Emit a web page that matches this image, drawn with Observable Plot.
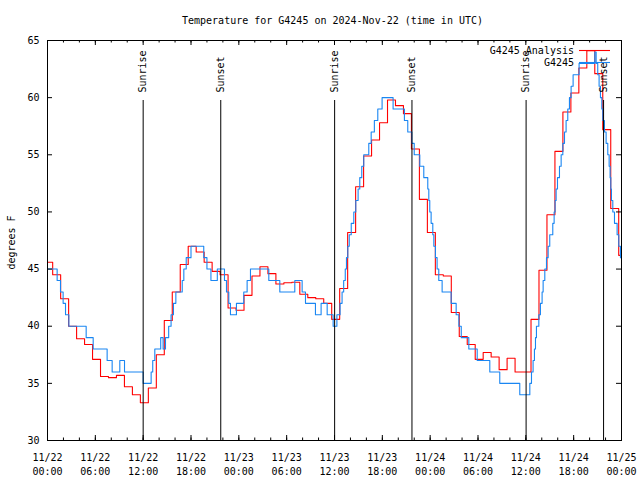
<!DOCTYPE html>
<html>
<head>
<meta charset="utf-8">
<script src="https://cdn.jsdelivr.net/npm/d3@7"></script>
<script src="https://cdn.jsdelivr.net/npm/@observablehq/plot@0.6"></script>
<style>
  html, body { margin: 0; padding: 0; background: #fff; }
  svg { display: block; }
</style>
</head>
<body>
<div id="chart"></div>
<script>
// ---------- data ----------
const title = "Temperature for G4245 on 2024-Nov-22 (time in UTC)";
const yLabel = "degrees F";
const seriesNames = ["G4245 Analysis", "G4245"];
const seriesColors = ["#ff0000", "#1a86f2"];
const startTime = "2024-11-22T00:00Z";
const endTime = "2024-11-25T00:00Z";
const yTicks = [30, 35, 40, 45, 50, 55, 60, 65];

// hourly analysis values, first value valid from 2024-11-21 23:39 UTC, one per hour
const analysisStart = "2024-11-21T23:39Z";
const analysisTemps = [
  45.6, 44.5, 42.4, 40.0, 38.9, 38.4, 37.1, 35.6, 35.5, 35.7,
  34.7, 34.0, 33.3, 34.6, 37.5, 40.5, 43.0, 45.4, 47.0, 46.5,
  45.6, 44.8, 44.5, 41.6, 41.4, 42.7, 44.4, 45.2, 44.6, 43.7,
  43.8, 43.85, 42.8, 42.5, 42.4, 42.0, 40.6, 43.3, 48.2, 52.2,
  54.9, 56.3, 57.8, 59.8, 59.3, 58.6, 55.5, 51.1, 48.2, 44.5,
  44.4, 41.2, 39.1, 38.4, 37.1, 37.7, 37.3, 36.2, 37.2, 36.0,
  36.0, 40.6, 44.9, 49.75, 55.3, 58.75, 60.4, 62.6, 64.1, 62.1,
  57.2, 50.3, 46.2
];

// station observations: hours after start at which the reading changes, and the new reading
const obsHours = [
  0, 1.21, 1.63, 1.96, 2.26, 2.68, 4.85, 5.73, 7.48, 8.11,
  9.07, 9.66, 12.0, 13.0, 13.2, 13.46, 14.2, 14.5, 14.8, 15.2,
  15.5, 15.8, 16.1, 16.9, 17.1, 17.4, 18.0, 19.6, 20.0, 20.5,
  21.3, 22.2, 22.45, 22.74, 22.95, 23.7, 24.62, 25.04, 25.46, 27.76,
  29.14, 31.02, 31.94, 32.36, 33.61, 34.32, 35.08, 35.83, 36.3, 36.7,
  36.95, 37.15, 37.35, 37.5, 37.67, 37.85, 38.1, 38.42, 38.67, 38.96,
  39.17, 39.42, 39.67, 40.3, 40.6, 41.0, 41.43, 41.97, 43.35, 44.77,
  45.19, 45.7, 46.0, 46.7, 47.2, 47.7, 47.83, 47.95, 48.12, 48.33,
  48.46, 48.66, 48.87, 49.08, 49.5, 50.63, 51.26, 51.6, 51.9, 52.85,
  53.9, 55.48, 56.73, 59.24, 60.5, 60.71, 60.91, 61.08, 61.21, 61.33,
  61.63, 61.83, 62.04, 62.17, 62.38, 62.59, 62.8, 63.0, 63.38, 63.55,
  63.67, 63.8, 63.97, 64.22, 64.43, 64.64, 64.85, 65.05, 65.26, 65.47,
  65.68, 65.93, 66.68, 68.65, 68.82, 69.02, 69.19, 69.36, 69.53, 69.65,
  69.86, 70.07, 70.28, 70.45, 70.57, 70.66, 70.74, 70.91, 71.12, 71.45,
  71.66, 71.87
];
const obsTemps = [
  45, 44, 43, 42, 41, 40, 39, 38, 37, 36,
  37, 36, 35, 36, 37, 38, 39, 38, 39, 40,
  41, 42, 43, 44, 45, 46, 47, 46, 45, 44,
  45, 44, 43, 42, 41, 42, 43, 44, 45, 44,
  43, 44, 43, 42, 41, 42, 41, 40, 41, 42,
  43, 44, 45, 46, 47, 48, 49, 50, 51, 52,
  53, 54, 55, 56, 57, 58, 59, 60, 59, 58,
  57, 56, 55, 54, 53, 52, 51, 50, 49, 48,
  47, 46, 45, 44, 43, 42, 41, 40, 39, 38,
  37, 36, 35, 34, 35, 36, 37, 38, 39, 40,
  41, 42, 43, 44, 45, 46, 47, 48, 49, 50,
  51, 52, 53, 54, 55, 56, 57, 58, 59, 60,
  61, 62, 63, 64, 63, 62, 61, 60, 59, 58,
  57, 56, 55, 54, 53, 52, 51, 50, 49, 48,
  47, 46
];

const eventTimes = [
  "2024-11-22T12:00Z", "2024-11-22T21:44Z",
  "2024-11-23T12:01Z", "2024-11-23T21:43Z",
  "2024-11-24T12:02Z", "2024-11-24T21:45Z"
];
const eventLabels = ["Sunrise", "Sunset", "Sunrise", "Sunset", "Sunrise", "Sunset"];

// ---------- build tables ----------
const t0 = new Date(startTime), t1 = new Date(endTime);
const analysis = analysisTemps.map((v, i) => ({t: d3.utcHour.offset(new Date(analysisStart), i), v}));
analysis.push({t: t1, v: analysisTemps[analysisTemps.length - 1]});
const obs = obsHours.map((h, i) => ({t: new Date(+t0 + h * 3600e3), v: obsTemps[i]}));
obs.push({t: t1, v: obsTemps[obsTemps.length - 1]});
const events = eventTimes.map((s, i) => ({t: new Date(s), label: eventLabels[i]}));

const yMin = yTicks[0], yMax = yTicks[yTicks.length - 1];
const majorTicks = d3.utcHours(t0, new Date(+t1 + 1), 6);
const minorTicks = d3.utcHours(t0, new Date(+t1 + 1), 2);
const fmt = d3.utcFormat("%m/%d\n%H:%M");

const W = 640, H = 480, mL = 47, mR = 19, mT = 40, mB = 40;
const pw = W - mL - mR, ph = H - mT - mB;
const font = "'DejaVu Sans Mono', monospace";

const chart = Plot.plot({
  width: W, height: H,
  marginLeft: mL, marginRight: mR, marginTop: mT, marginBottom: mB,
  style: {fontFamily: font, fontSize: "10px", background: "#fff", color: "#000", overflow: "visible"},
  x: {type: "utc", domain: [t0, t1], label: null},
  y: {domain: [yMin, yMax], label: null},
  marks: [
    Plot.line(analysis, {x: "t", y: "v", curve: "step-after", stroke: seriesColors[0], strokeWidth: 1.1, clip: true}),
    Plot.line(obs, {x: "t", y: "v", curve: "step-after", stroke: seriesColors[1], strokeWidth: 1.1, clip: true}),
    Plot.ruleX(events, {x: "t", y1: yMin, y2: yMin + 0.85 * (yMax - yMin), stroke: "#000", strokeWidth: 1}),
    Plot.text(events, {x: "t", y: yMin + 0.87 * (yMax - yMin), text: "label", rotate: -90,
      textAnchor: "start", lineAnchor: "middle", fill: "#000"}),
    Plot.frame({stroke: "#000"}),
    Plot.tickX(majorTicks, {x: d => d, insetTop: ph - 5, stroke: "#000"}),
    Plot.tickX(majorTicks, {x: d => d, insetBottom: ph - 5, stroke: "#000"}),
    Plot.tickX(minorTicks, {x: d => d, insetTop: ph - 2.5, stroke: "#000"}),
    Plot.tickX(minorTicks, {x: d => d, insetBottom: ph - 2.5, stroke: "#000"}),
    Plot.tickY(yTicks, {y: d => d, insetRight: pw - 5, stroke: "#000"}),
    Plot.tickY(yTicks, {y: d => d, insetLeft: pw - 5, stroke: "#000"}),
    Plot.axisY({ticks: yTicks, tickSize: 0, tickPadding: 8, label: null, fill: "#000"}),
    Plot.axisX({ticks: majorTicks, tickSize: 0, tickPadding: 11, tickFormat: fmt, lineHeight: 1.35, label: null, fill: "#000"}),
    Plot.text([title], {frameAnchor: "top", dx: -2, dy: -20, lineAnchor: "middle", fill: "#000"}),
    Plot.text([yLabel], {frameAnchor: "left", dx: -36, dy: 2, rotate: -90, textAnchor: "middle", lineAnchor: "middle", fill: "#000"}),
    Plot.text([seriesNames[0]], {frameAnchor: "top-right", dx: -47.5, dy: 10.5, textAnchor: "end", lineAnchor: "middle", fill: "#000"}),
    Plot.text([seriesNames[1]], {frameAnchor: "top-right", dx: -47.5, dy: 22.5, textAnchor: "end", lineAnchor: "middle", fill: "#000"})
  ]
});
document.getElementById("chart").appendChild(chart);

// legend line samples
const svg = d3.select(chart);
[0, 1].forEach(i => {
  svg.append("line")
    .attr("x1", W - mR - 42).attr("x2", W - mR - 11)
    .attr("y1", mT + 10.5 + 12 * i).attr("y2", mT + 10.5 + 12 * i)
    .attr("stroke", seriesColors[i]).attr("stroke-width", 1.1);
});
</script>
</body>
</html>
